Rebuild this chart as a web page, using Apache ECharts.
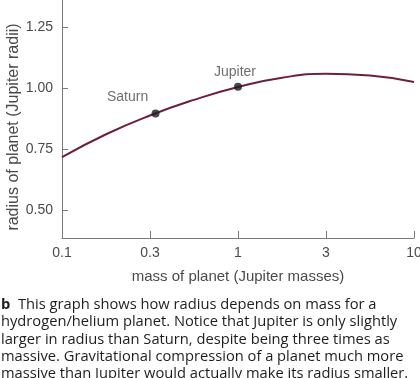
<!DOCTYPE html>
<html>
<head>
<meta charset="utf-8">
<script src="https://cdn.jsdelivr.net/npm/echarts@6/dist/echarts.min.js"></script>
<style>
html,body{margin:0;padding:0;background:#fff;}
#chart{width:420px;height:378px;}
</style>
</head>
<body>
<div id="chart"></div>
<script>
// Curve: mass (Jupiter masses) vs radius (Jupiter radii)
var curveMass   = [0.1, 0.178, 0.316, 0.562, 1.0, 1.78, 3.16, 5.62, 10];
var curveRadius = [0.717, 0.811, 0.888, 0.952, 1.005, 1.043, 1.059, 1.052, 1.025];
// Marked planets
var planetNames  = ['Saturn', 'Jupiter'];
var planetMass   = [0.34, 1.0];
var planetRadius = [0.896, 1.006];
// Axis ticks
var xTickValues = [0.1, 0.316, 1, 3.16, 10];
var xTickLabels = ['0.1', '0.3', '1', '3', '10'];
var yTickValues = [0.5, 0.75, 1.0, 1.25];
var yTickLabels = ['0.50', '0.75', '1.00', '1.25'];
var xTitle = 'mass of planet (Jupiter masses)';
var yTitle = 'radius of planet (Jupiter radii)';
var captionLines = [
  '{b|b}  This graph shows how radius depends on mass for a',
  'hydrogen/helium planet. Notice that Jupiter is only slightly',
  'larger in radius than Saturn, despite being three times as',
  'massive. Gravitational compression of a planet much more',
  'massive than Jupiter would actually make its radius smaller.'
];

var chart = echarts.init(document.getElementById('chart'), null, {renderer: 'canvas'});
var axisFont = 'Liberation Sans, Arial, sans-serif';
var axisColor = '#7a7a7a';
var textColor = '#4a4a4a';

function labelFor(values, labels, v) {
  var best = 0, bd = Infinity;
  for (var i = 0; i < values.length; i++) {
    var d = Math.abs(values[i] - v);
    if (d < bd) { bd = d; best = i; }
  }
  return labels[best];
}

var curveData = curveMass.map(function (m, i) { return [m, curveRadius[i]]; });
var planetOffsets = [[-28, 0], [-3, 1]];
var planetData = planetNames.map(function (n, i) {
  return {
    name: n,
    value: [planetMass[i], planetRadius[i]],
    label: { offset: planetOffsets[i] }
  };
});

var captionTop = 305, captionStep = 17.2;
var graphics = captionLines.map(function (t, i) {
  return {
    type: 'text',
    x: 1,
    y: captionTop + i * captionStep,
    style: {
      text: t,
      fontFamily: 'Open Sans, sans-serif',
      fontSize: 14.7,
      fill: '#1e1e1e',
      verticalAlign: 'middle',
      align: 'left',
      rich: {
        b: { fontWeight: 'bold', fontFamily: 'Open Sans, sans-serif', fontSize: 14.7, fill: '#1e1e1e' }
      }
    }
  };
});

chart.setOption({
  backgroundColor: '#fff',
  animation: false,
  grid: { left: 62, right: 6, top: 0, bottom: 140, containLabel: false, outerBoundsMode: 'none' },
  xAxis: {
    type: 'log',
    logBase: 10,
    min: 0.1,
    max: 10,
    name: xTitle,
    nameLocation: 'middle',
    nameGap: 31,
    nameMoveOverlap: false,
    nameTextStyle: { fontFamily: axisFont, fontSize: 15, color: textColor },
    axisLine: { show: true, lineStyle: { color: axisColor, width: 1 } },
    axisTick: { show: true, inside: true, length: 7, customValues: xTickValues, lineStyle: { color: axisColor } },
    axisLabel: {
      customValues: xTickValues,
      fontFamily: axisFont, fontSize: 14, color: textColor, margin: 8,
      alignMaxLabel: 'center', alignMinLabel: 'center',
      formatter: function (v) { return labelFor(xTickValues, xTickLabels, v); }
    },
    splitLine: { show: false },
    minorTick: { show: false }
  },
  yAxis: {
    type: 'value',
    min: 0.385,
    max: 1.362,
    name: yTitle,
    nameLocation: 'middle',
    nameRotate: 90,
    nameGap: 40,
    nameMoveOverlap: false,
    nameTextStyle: { fontFamily: axisFont, fontSize: 16, color: textColor, padding: [0, 16, 0, 0] },
    axisLine: { show: true, lineStyle: { color: axisColor, width: 1 } },
    axisTick: { show: true, inside: true, length: 6, customValues: yTickValues, lineStyle: { color: axisColor } },
    axisLabel: {
      customValues: yTickValues,
      fontFamily: axisFont, fontSize: 14, color: textColor, margin: 9,
      formatter: function (v) { return labelFor(yTickValues, yTickLabels, v); }
    },
    splitLine: { show: false }
  },
  series: [
    {
      type: 'line',
      data: curveData,
      smooth: 0.5,
      showSymbol: false,
      lineStyle: { color: '#6d1f3c', width: 2 },
      z: 2
    },
    {
      type: 'scatter',
      data: planetData,
      symbol: 'circle',
      symbolSize: 8,
      itemStyle: { color: '#1c1c1c' },
      label: {
        show: true,
        position: 'top',
        distance: 5,
        formatter: '{b}',
        fontFamily: axisFont,
        fontSize: 14,
        color: textColor
      },
      z: 3
    }
  ],
  graphic: graphics
});
</script>
</body>
</html>
